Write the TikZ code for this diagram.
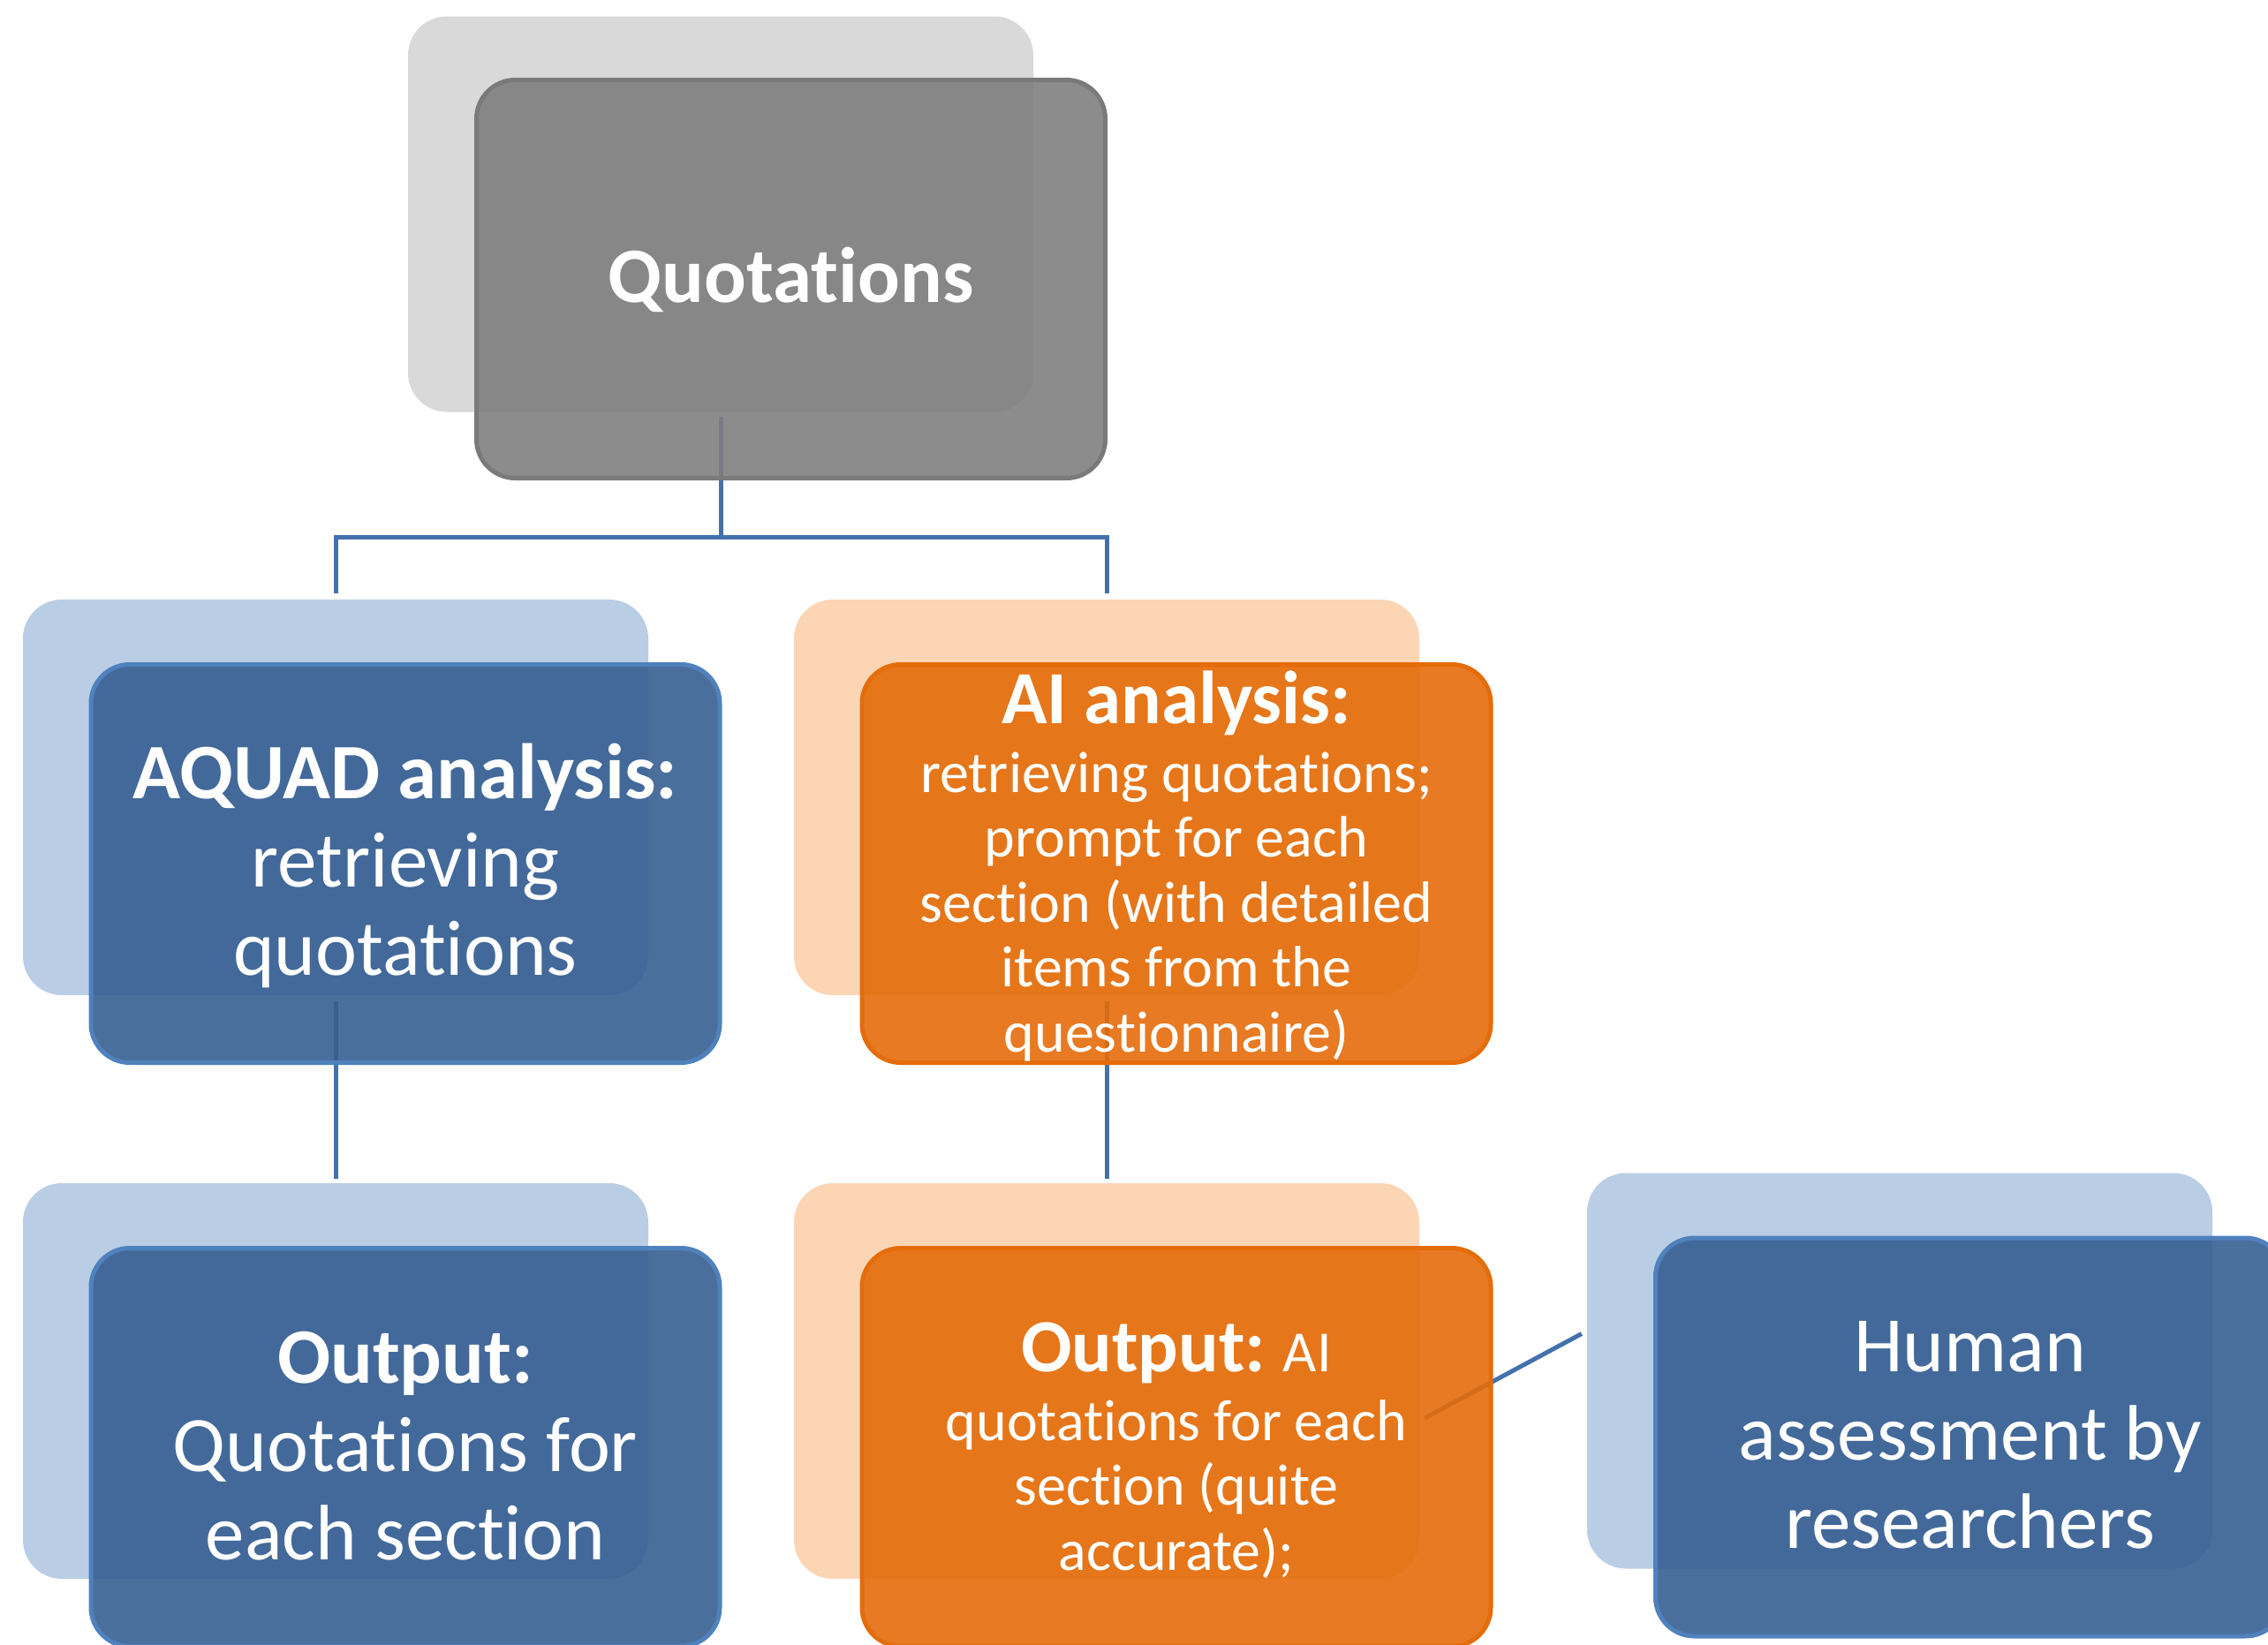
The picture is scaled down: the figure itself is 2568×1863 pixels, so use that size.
\documentclass[tikz,border=0pt]{standalone}
\usepackage{fontspec}
\setmainfont{Carlito}[Ligatures=NoCommon, RawFeature={-liga;-clig;-calt;-dlig}]
\usetikzlibrary{calc}

\definecolor{greyBack}{HTML}{D9D9D9}
\definecolor{greyFront}{HTML}{7F7F7F}
\definecolor{greyEdge}{HTML}{7A7A7A}
\definecolor{blueBack}{HTML}{B9CDE5}
\definecolor{blueFront}{HTML}{375F92}
\definecolor{blueEdge}{HTML}{4F81BD}
\definecolor{orangeBack}{HTML}{FCD5B5}
\definecolor{orangeFront}{HTML}{E46C0A}
\definecolor{orangeEdge}{HTML}{E46C0A}
\definecolor{linkBlue}{HTML}{4371AD}

\tikzset{
  backbox/.style={rectangle, rounded corners=44pt, minimum width=708pt,
    minimum height=448pt, inner sep=0pt, draw=none},
  frontbox/.style={rectangle, rounded corners=44pt, minimum width=712pt,
    minimum height=451pt, inner sep=0pt, line width=5pt, fill opacity=0.9},
  conn/.style={draw=linkBlue, line width=5pt, line join=miter},
  boxtext/.style={anchor=base, text=white, text width=700pt,
    align=flush center, inner sep=0pt},
  bigfont/.style={font=\fontsize{89pt}{100pt}\selectfont},
  smallfont/.style={font=\fontsize{66pt}{73.5pt}\selectfont},
}

\begin{document}
\begin{tikzpicture}[x=1pt, y=-1pt]
  \useasboundingbox (0,0) rectangle (2568,1863);

  % back (pale) boxes
  \node[backbox, fill=greyBack]   (gBack)  at (816,242.5) {};
  \node[backbox, fill=blueBack]   (aqBack) at (380,903) {};
  \node[backbox, fill=orangeBack] (aiBack) at (1253,903) {};
  \node[backbox, fill=blueBack]   (oqBack) at (380,1564) {};
  \node[backbox, fill=orangeBack] (aoBack) at (1253,1564) {};
  \node[backbox, fill=blueBack]   (huBack) at (2151,1552.5) {};

  % connectors
  \coordinate (barMid) at (816,608);
  \draw[conn] ($(gBack.south)+(0,5)$) -- (barMid);
  \draw[conn] ($(aqBack.north)+(0,-7)$) |- (barMid) -| ($(aiBack.north)+(0,-7)$);
  \draw[conn] ($(aqBack.south)+(0,7)$) -- ($(oqBack.north)+(0,-5)$);
  \draw[conn] ($(aiBack.south)+(0,7)$) -- ($(aoBack.north)+(0,-5)$);
  \draw[conn] ($(aoBack.east)+(6,42)$) -- ($(huBack.west)+(-6,-42)$);

  % front (strong) boxes
  \node[frontbox, fill=greyFront, draw=greyEdge]     (gFront)  at ($(gBack)+(79.5,73.5)$) {};
  \node[frontbox, fill=blueFront, draw=blueEdge]     (aqFront) at ($(aqBack)+(79,75)$) {};
  \node[frontbox, fill=orangeFront, draw=orangeEdge] (aiFront) at ($(aiBack)+(79,75)$) {};
  \node[frontbox, fill=blueFront, draw=blueEdge]     (oqFront) at ($(oqBack)+(79,75)$) {};
  \node[frontbox, fill=orangeFront, draw=orangeEdge] (aoFront) at ($(aoBack)+(79,75)$) {};
  \node[frontbox, fill=blueFront, draw=blueEdge]     (huFront) at ($(huBack)+(79.5,75)$) {};

  % texts
  \node[boxtext, bigfont] (gText) at ($(gFront.center)+(0,26)$)
    {\bfseries Quotations};
  \node[boxtext, bigfont] (aqText) at ($(aqFront.center)+(0,-74)$)
    {{\bfseries AQUAD analysis:}\\ retrieving\\ quotations};
  \node[boxtext, smallfont] (aiText) at ($(aiFront.center)+(0,-159)$)
    {{\fontsize{85pt}{73.5pt}\selectfont\bfseries AI analysis:}\\[4.5pt]
     retrieving quotations;\\ prompt for each\\ section (with detailed\\
     items from the\\ questionnaire)};
  \node[boxtext, bigfont] (oqText) at ($(oqFront.center)+(0,-73)$)
    {{\bfseries Output:}\\ Quotations for\\ each section};
  \node[boxtext, smallfont] (aoText) at ($(aoFront.center)+(0,-86)$)
    {{\fontsize{85pt}{73.5pt}\selectfont\bfseries Output:} AI\\[4.5pt]
     quotations for each\\ section (quite\\ accurate);};
  \node[boxtext, bigfont] (huText) at ($(huFront.center)+(0,-74.5)$)
    {Human\\ assessment by\\ researchers};
\end{tikzpicture}
\end{document}
